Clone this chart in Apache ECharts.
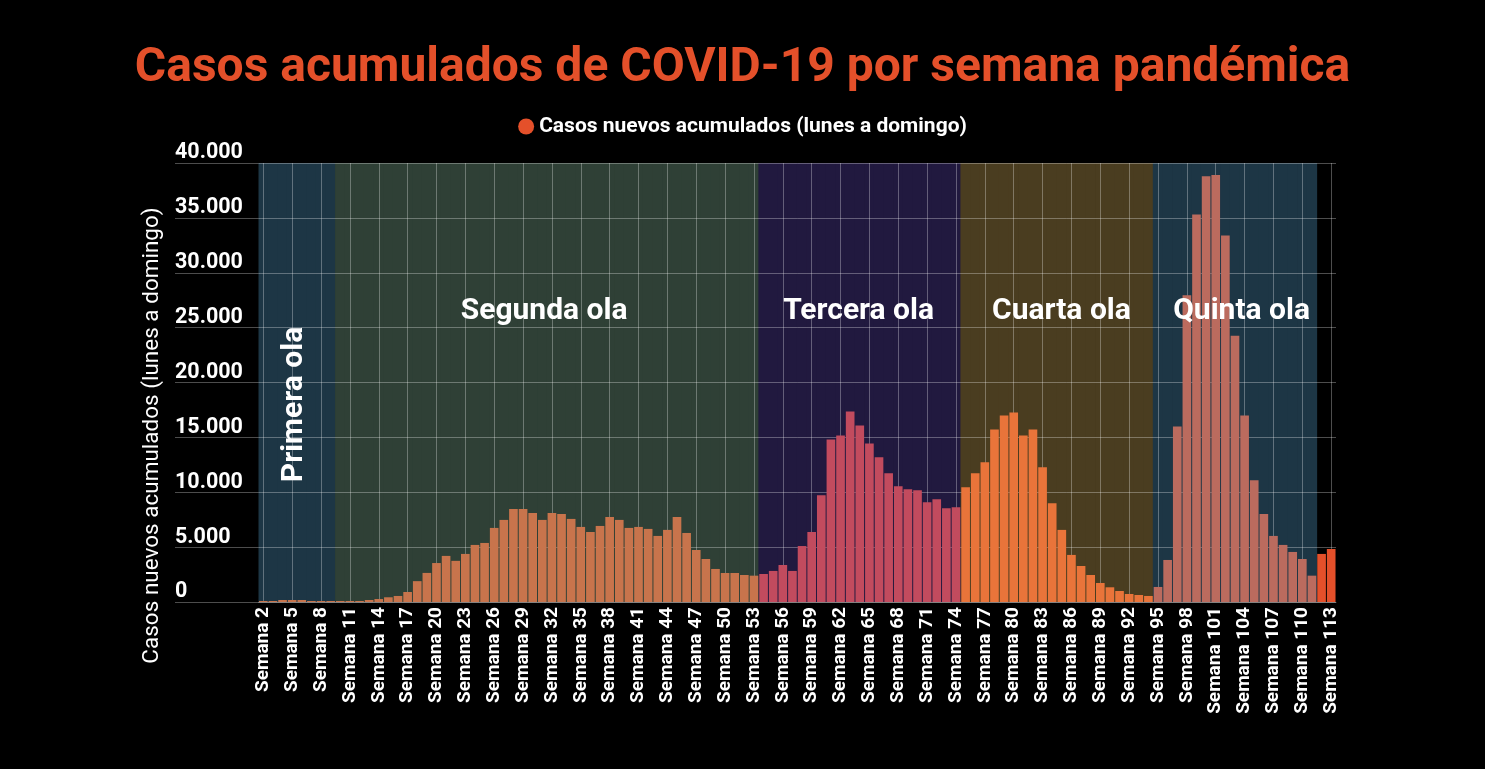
<!DOCTYPE html>
<html>
<head>
<meta charset="utf-8">
<script src="https://cdn.jsdelivr.net/npm/echarts@6/dist/echarts.min.js"></script>
<style>
  html, body { margin: 0; padding: 0; background: #000; }
  #chart { width: 1485px; height: 769px; }
</style>
</head>
<body>
<div id="chart"></div>
<script>
// semanas pandémicas 2..113
const weeks = [];
for (let w = 2; w <= 113; w++) weeks.push('Semana ' + w);

// casos nuevos acumulados (lunes a domingo)
const cases = [
  90, 90, 180, 180, 180, 90, 90, 90, 90, 90, 90, 180, 270, 430, 550, 910, 1900, 2650,   // S2-S19
  3550, 4200, 3750, 4380, 5200, 5380, 6750, 7480, 8480, 8480, 8110, 7480, 8110, 8020,   // S20-S33
  7570, 6840, 6380, 6930, 7750, 7480, 6750, 6840, 6660, 6020, 6570, 7750, 6290, 4740,   // S34-S47
  3920, 3010, 2640, 2640, 2460, 2400,                                                   // S48-S53
  2550, 2830, 3370, 2830, 5100, 6380, 9730, 14800, 15170, 17360, 16080, 14440, 13190,   // S54-S66
  11730, 10550, 10270, 10180, 9090, 9360, 8540, 8630,                                   // S67-S74
  10460, 11730, 12740, 15710, 16990, 17260, 15170, 15710, 12280, 9000, 6570, 4290,      // S75-S86
  3280, 2460, 1730, 1340, 1000, 730, 640, 550,                                          // S87-S94
  1370, 3830, 15990, 27960, 35300, 38800, 38900, 33400, 24250, 16990, 11090, 8020,      // S95-S106
  6020, 5200, 4560, 3920, 2400,                                                         // S107-S111
  4380, 4830                                                                            // S112-S113
];

// olas
const waveNames = ['Primera ola', 'Segunda ola', 'Tercera ola', 'Cuarta ola', 'Quinta ola'];
const waveStart = ['Semana 2', 'Semana 10', 'Semana 54', 'Semana 75', 'Semana 95'];
const waveEnd   = ['Semana 9', 'Semana 53', 'Semana 74', 'Semana 94', 'Semana 111'];
const waveBand  = ['#1d3645', '#2f4036', '#21193f', '#4a3d20', '#1d3645'];
const waveBar   = ['#c8744c', '#c8744c', '#c24b5e', '#e9743a', '#bb6b5e'];
const latestBar = '#e4502a';

const yTicks = [0, 5000, 10000, 15000, 20000, 25000, 30000, 35000, 40000];

const gridColor = 'rgba(255,255,255,0.3)';

function waveOf(idx) {
  for (let k = 0; k < waveNames.length; k++) {
    const s = weeks.indexOf(waveStart[k]);
    const e = weeks.indexOf(waveEnd[k]);
    if (idx >= s && idx <= e) return k;
  }
  return -1;
}

const barData = cases.map((v, i) => {
  const k = waveOf(i);
  return { value: v, itemStyle: { color: k >= 0 ? waveBar[k] : latestBar } };
});

const bandData = weeks.map((w, i) => {
  const k = waveOf(i);
  return k >= 0 ? { value: 1, itemStyle: { color: waveBand[k] } } : { value: 0 };
});

// rótulos de las olas (rango vertical donde se centran y pequeño ajuste horizontal)
const labelY = [[0, 36000], [23000, 30000], [23000, 30000], [23000, 30000], [23000, 30000]];
const labelShift = [[0, 0], [-3, 0], [-6, 0], [2, 0], [9, 0]];
const waveAreas = waveNames.map((n, k) => [
  {
    name: n,
    xAxis: waveStart[k],
    yAxis: labelY[k][0],
    label: k === 0 ? { rotate: 90, offset: labelShift[k] } : { offset: labelShift[k] }
  },
  { xAxis: waveEnd[k], yAxis: labelY[k][1] }
]);

const fmt = v => String(v).replace(/\B(?=(\d{3})+(?!\d))/g, '.');

const chart = echarts.init(document.getElementById('chart'));
const option = {
  backgroundColor: '#000',
  animation: false,
  textStyle: { fontFamily: 'Roboto' },
  title: {
    text: 'Casos acumulados de COVID-19 por semana pandémica',
    left: 'center',
    top: 40,
    textStyle: { color: '#e4502a', fontSize: 48, fontWeight: 'bold', fontFamily: 'Roboto' }
  },
  legend: {
    top: 111,
    left: 'center',
    icon: 'circle',
    itemWidth: 16,
    itemHeight: 16,
    itemGap: 10,
    data: ['Casos nuevos acumulados (lunes a domingo)'],
    textStyle: { color: '#fff', fontSize: 21, fontWeight: 'bold', fontFamily: 'Roboto' }
  },
  grid: { left: 258.5, right: 149, top: 163, bottom: 167 },
  xAxis: [
    {
      type: 'category',
      data: weeks,
      axisLine: { lineStyle: { color: gridColor } },
      axisTick: { show: false },
      axisLabel: {
        interval: 2,
        rotate: 90,
        margin: 5,
        color: '#fff',
        fontSize: 19,
        fontWeight: 'bold',
        fontFamily: 'Roboto'
      },
      splitLine: { show: true, interval: 2, alignWithLabel: true, lineStyle: { color: gridColor } }
    },
    { type: 'category', data: weeks, show: false, gridIndex: 0 }
  ],
  yAxis: [
    {
      type: 'value',
      min: 0,
      max: 40000,
      interval: 5000,
      name: 'Casos nuevos acumulados (lunes a domingo)',
      nameLocation: 'middle',
      nameGap: 94,
      nameTextStyle: { color: '#fff', fontSize: 22.5, fontFamily: 'Roboto', padding: [0, 106, 0, 0] },
      axisLine: { show: false },
      axisTick: { show: true, length: 83.5, lineStyle: { color: gridColor } },
      axisLabel: {
        color: '#fff',
        fontSize: 21.5,
        fontWeight: 'bold',
        fontFamily: 'Roboto',
        align: 'left',
        verticalAlign: 'bottom',
        lineHeight: 20,
        margin: 83.5,
        formatter: v => yTicks.includes(v) ? fmt(v) : ''
      },
      splitLine: { lineStyle: { color: gridColor } }
    },
    { type: 'value', min: 0, max: 1, show: false }
  ],
  series: [
    {
      name: 'bandas',
      type: 'bar',
      xAxisIndex: 1,
      yAxisIndex: 1,
      barWidth: '108%',
      z: -1,
      silent: true,
      data: bandData
    },
    {
      name: 'Casos nuevos acumulados (lunes a domingo)',
      type: 'bar',
      barCategoryGap: '10%',
      itemStyle: { color: latestBar },
      data: barData,
      markArea: {
        silent: true,
        z: 5,
        itemStyle: { color: 'rgba(0,0,0,0)' },
        label: {
          position: 'inside',
          color: '#fff',
          fontSize: 30,
          fontWeight: 'bold',
          fontFamily: 'Roboto'
        },
        data: waveAreas
      }
    }
  ]
};
option && chart.setOption(option);
</script>
</body>
</html>
